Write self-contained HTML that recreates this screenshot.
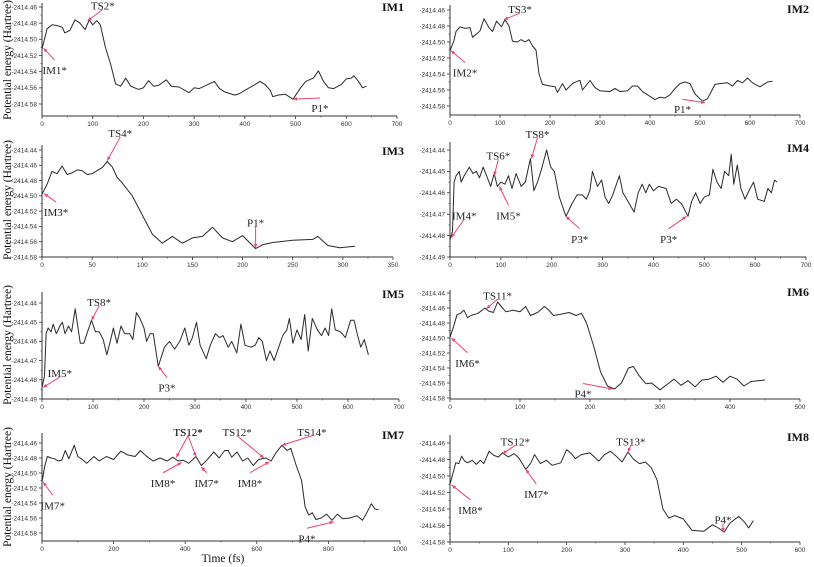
<!DOCTYPE html>
<html><head><meta charset="utf-8">
<style>
html,body{margin:0;padding:0;background:#fff;}
svg{display:block;}
.tick{font-family:"Liberation Sans",sans-serif;font-size:6.5px;fill:#333;}
.ann{font-family:"Liberation Serif",serif;font-size:11px;fill:#222;}
.ttl{font-family:"Liberation Serif",serif;font-size:12px;font-weight:bold;fill:#111;}
.axt{font-family:"Liberation Serif",serif;font-size:11.5px;fill:#111;}
</style></head>
<body>
<svg id="chart" width="814" height="567" viewBox="0 0 814 567"></svg>
<script>
// ---- data (energies in Hartree) ----
const t1=[0,5,10,20,30,40,45,55,65,75,85,93,100,108,115,125,135,145,155,165,175,190,200,210,220,230,245,255,270,290,300,310,320,340,350,360,380,390,400,420,430,440,450,455,465,480,495,510,520,535,545,555,565,575,590,600,610,615,625,632,640];
const e1=[-2414.512,-2414.500,-2414.487,-2414.482,-2414.483,-2414.485,-2414.492,-2414.489,-2414.476,-2414.480,-2414.488,-2414.476,-2414.482,-2414.477,-2414.482,-2414.510,-2414.530,-2414.555,-2414.558,-2414.548,-2414.558,-2414.562,-2414.560,-2414.551,-2414.558,-2414.557,-2414.550,-2414.558,-2414.559,-2414.566,-2414.560,-2414.561,-2414.558,-2414.552,-2414.561,-2414.565,-2414.569,-2414.567,-2414.563,-2414.556,-2414.552,-2414.556,-2414.563,-2414.571,-2414.569,-2414.568,-2414.574,-2414.560,-2414.552,-2414.548,-2414.539,-2414.552,-2414.560,-2414.561,-2414.556,-2414.549,-2414.548,-2414.545,-2414.553,-2414.560,-2414.558];
const t2=[0,8,12,20,30,40,45,55,60,68,78,85,93,103,110,118,125,135,142,150,158,165,172,178,185,200,210,215,225,232,245,255,260,265,280,290,300,320,330,340,355,365,375,385,395,410,420,430,440,450,460,470,480,490,505,515,530,540,555,565,575,585,595,605,620,635,645];
const e2=[-2414.511,-2414.498,-2414.487,-2414.481,-2414.483,-2414.482,-2414.494,-2414.489,-2414.486,-2414.471,-2414.482,-2414.487,-2414.474,-2414.481,-2414.472,-2414.480,-2414.499,-2414.500,-2414.497,-2414.500,-2414.497,-2414.505,-2414.510,-2414.540,-2414.553,-2414.555,-2414.556,-2414.563,-2414.552,-2414.560,-2414.552,-2414.549,-2414.548,-2414.560,-2414.548,-2414.557,-2414.561,-2414.562,-2414.558,-2414.562,-2414.561,-2414.555,-2414.555,-2414.562,-2414.566,-2414.572,-2414.569,-2414.570,-2414.566,-2414.558,-2414.552,-2414.550,-2414.552,-2414.565,-2414.574,-2414.571,-2414.553,-2414.552,-2414.551,-2414.555,-2414.548,-2414.551,-2414.545,-2414.551,-2414.556,-2414.550,-2414.549];
const t3=[0,5,10,15,20,25,30,35,40,45,50,55,60,65,70,75,80,90,100,110,120,130,140,150,160,170,180,190,200,213,220,230,250,270,275,285,297,312];
const e3=[-2414.498,-2414.485,-2414.468,-2414.471,-2414.461,-2414.472,-2414.470,-2414.466,-2414.467,-2414.472,-2414.471,-2414.467,-2414.463,-2414.455,-2414.462,-2414.476,-2414.483,-2414.500,-2414.525,-2414.550,-2414.562,-2414.553,-2414.562,-2414.555,-2414.553,-2414.541,-2414.555,-2414.560,-2414.552,-2414.569,-2414.564,-2414.561,-2414.558,-2414.557,-2414.553,-2414.565,-2414.568,-2414.566];
const t4=[0,5,8,12,18,22,28,38,45,52,58,65,72,80,87,93,100,108,115,122,130,140,148,158,165,172,180,190,198,205,215,228,240,250,260,268,275,280,290,298,305,312,320,333,340,350,362,370,378,385,392,400,410,425,435,445,455,468,475,483,492,500,510,517,525,533,540,548,553,558,565,572,580,590,597,605,618,625,632,638,643];
const e4=[-2414.482,-2414.478,-2414.455,-2414.452,-2414.450,-2414.455,-2414.452,-2414.448,-2414.451,-2414.450,-2414.453,-2414.448,-2414.452,-2414.457,-2414.451,-2414.457,-2414.455,-2414.456,-2414.452,-2414.458,-2414.451,-2414.457,-2414.455,-2414.444,-2414.459,-2414.455,-2414.449,-2414.440,-2414.448,-2414.450,-2414.462,-2414.471,-2414.465,-2414.461,-2414.461,-2414.463,-2414.459,-2414.450,-2414.457,-2414.454,-2414.462,-2414.465,-2414.461,-2414.452,-2414.460,-2414.464,-2414.469,-2414.460,-2414.456,-2414.460,-2414.456,-2414.459,-2414.457,-2414.458,-2414.465,-2414.463,-2414.465,-2414.471,-2414.464,-2414.460,-2414.465,-2414.462,-2414.461,-2414.449,-2414.455,-2414.458,-2414.450,-2414.452,-2414.442,-2414.456,-2414.447,-2414.458,-2414.463,-2414.458,-2414.455,-2414.463,-2414.464,-2414.458,-2414.460,-2414.454,-2414.455];
const t5=[0,5,8,12,18,22,28,35,40,45,52,58,65,70,75,82,88,97,105,112,120,127,133,140,147,155,162,172,178,185,192,200,205,212,218,228,240,250,260,270,280,288,295,303,310,322,330,340,348,355,365,372,382,390,398,410,418,425,432,440,447,455,463,472,480,485,492,500,508,515,522,530,540,548,555,562,568,575,585,595,605,612,618,625,632,640];
const e5=[-2414.484,-2414.478,-2414.456,-2414.453,-2414.455,-2414.451,-2414.456,-2414.452,-2414.450,-2414.456,-2414.452,-2414.455,-2414.443,-2414.452,-2414.461,-2414.461,-2414.456,-2414.449,-2414.455,-2414.455,-2414.459,-2414.467,-2414.461,-2414.453,-2414.461,-2414.452,-2414.456,-2414.456,-2414.459,-2414.445,-2414.448,-2414.453,-2414.460,-2414.456,-2414.456,-2414.473,-2414.463,-2414.460,-2414.464,-2414.460,-2414.453,-2414.462,-2414.458,-2414.450,-2414.462,-2414.469,-2414.462,-2414.456,-2414.458,-2414.457,-2414.463,-2414.460,-2414.466,-2414.451,-2414.462,-2414.463,-2414.462,-2414.458,-2414.460,-2414.470,-2414.465,-2414.470,-2414.464,-2414.457,-2414.454,-2414.448,-2414.461,-2414.454,-2414.459,-2414.446,-2414.465,-2414.448,-2414.454,-2414.457,-2414.453,-2414.457,-2414.443,-2414.454,-2414.455,-2414.458,-2414.449,-2414.449,-2414.456,-2414.463,-2414.459,-2414.467];
const t6=[0,5,10,15,20,25,30,40,50,55,62,68,75,80,90,100,108,115,125,135,140,148,160,170,180,188,195,205,215,225,235,245,255,262,270,280,288,300,310,320,330,340,350,360,370,380,390,400,410,420,430,440,450];
const e6=[-2414.499,-2414.485,-2414.469,-2414.467,-2414.463,-2414.473,-2414.470,-2414.467,-2414.460,-2414.464,-2414.466,-2414.452,-2414.460,-2414.465,-2414.463,-2414.465,-2414.458,-2414.470,-2414.466,-2414.458,-2414.462,-2414.470,-2414.468,-2414.466,-2414.470,-2414.467,-2414.480,-2414.510,-2414.545,-2414.564,-2414.568,-2414.560,-2414.540,-2414.538,-2414.550,-2414.561,-2414.560,-2414.569,-2414.562,-2414.555,-2414.563,-2414.557,-2414.565,-2414.556,-2414.555,-2414.551,-2414.559,-2414.551,-2414.555,-2414.564,-2414.558,-2414.557,-2414.556];
const t7=[0,8,15,25,35,45,55,65,75,90,100,110,125,145,160,180,200,220,240,260,275,290,310,330,350,365,380,395,410,430,445,460,480,495,510,520,530,545,560,575,590,605,625,640,655,670,685,695,710,725,735,745,755,765,780,795,810,825,840,860,880,895,905,920,930,940];
const e7=[-2414.512,-2414.490,-2414.478,-2414.480,-2414.481,-2414.484,-2414.483,-2414.470,-2414.481,-2414.463,-2414.478,-2414.481,-2414.487,-2414.478,-2414.484,-2414.478,-2414.482,-2414.471,-2414.476,-2414.478,-2414.470,-2414.477,-2414.484,-2414.480,-2414.484,-2414.479,-2414.484,-2414.483,-2414.487,-2414.478,-2414.490,-2414.483,-2414.472,-2414.480,-2414.470,-2414.470,-2414.479,-2414.472,-2414.484,-2414.480,-2414.490,-2414.482,-2414.480,-2414.484,-2414.472,-2414.463,-2414.470,-2414.467,-2414.490,-2414.510,-2414.545,-2414.556,-2414.553,-2414.562,-2414.560,-2414.555,-2414.563,-2414.555,-2414.561,-2414.560,-2414.557,-2414.563,-2414.555,-2414.541,-2414.548,-2414.549];
const t8=[0,5,10,15,20,25,30,38,45,52,58,67,75,83,90,100,110,118,130,138,145,155,165,175,190,200,208,215,225,240,255,265,275,285,295,305,315,325,335,345,355,365,375,385,400,415,435,450,460,470,480,495,505,512,520];
const e8=[-2414.510,-2414.497,-2414.484,-2414.485,-2414.476,-2414.482,-2414.484,-2414.481,-2414.486,-2414.481,-2414.485,-2414.470,-2414.475,-2414.477,-2414.472,-2414.477,-2414.473,-2414.478,-2414.492,-2414.485,-2414.474,-2414.485,-2414.481,-2414.487,-2414.484,-2414.468,-2414.473,-2414.479,-2414.474,-2414.472,-2414.482,-2414.474,-2414.470,-2414.476,-2414.483,-2414.471,-2414.480,-2414.485,-2414.483,-2414.490,-2414.505,-2414.540,-2414.551,-2414.548,-2414.552,-2414.566,-2414.567,-2414.559,-2414.563,-2414.568,-2414.557,-2414.549,-2414.556,-2414.563,-2414.554];
const yTicks1=[-2414.46,-2414.48,-2414.50,-2414.52,-2414.54,-2414.56,-2414.58];
const yTicksWide=[-2414.44,-2414.46,-2414.48,-2414.50,-2414.52,-2414.54,-2414.56,-2414.58];
const yTicksFine=[-2414.44,-2414.45,-2414.46,-2414.47,-2414.48,-2414.49];
const panelNames=["IM1","IM2","IM3","IM4","IM5","IM6","IM7","IM8"];
// annotations: [text, tipT, tipE, labelT, labelE]
const ann1=[["IM1*",3,-2414.511,25,-2414.538],["TS2*",90,-2414.477,120,-2414.458],["P1*",495,-2414.574,548,-2414.585]];
const ann2=[["IM2*",2,-2414.511,30,-2414.538],["TS3*",108,-2414.472,140,-2414.459],["P1*",510,-2414.576,465,-2414.584]];
const ann3=[["IM3*",2,-2414.497,14,-2414.521],["TS4*",65,-2414.454,78,-2414.418],["P1*",213,-2414.568,213,-2414.535]];
const ann4=[["IM4*",2,-2414.481,28,-2414.4705],["TS6*",87,-2414.452,95,-2414.4425],["IM5*",97,-2414.457,115,-2414.4705],["TS8*",160,-2414.444,172,-2414.4325],["P3*",228,-2414.471,255,-2414.4815],["P3*",465,-2414.471,430,-2414.4815]];
const ann5=[["IM5*",2,-2414.484,35,-2414.4765],["TS8*",97,-2414.449,112,-2414.4395],["P3*",228,-2414.473,245,-2414.484]];
const ann6=[["IM6*",2,-2414.500,25,-2414.533],["TS11*",52,-2414.461,68,-2414.443],["P4*",232,-2414.568,190,-2414.574]];
const ann7=[["IM7*",3,-2414.512,30,-2414.543],["TS12*",375,-2414.479,408,-2414.445],["TS12*",430,-2414.478,408,-2414.445],["IM8*",390,-2414.486,338,-2414.513],["IM7*",445,-2414.492,460,-2414.513],["TS12*",620,-2414.480,545,-2414.445],["IM8*",635,-2414.485,581,-2414.513],["TS14*",670,-2414.463,754,-2414.445],["P4*",815,-2414.565,740,-2414.587]];
const ann8=[["IM8*",3,-2414.511,35,-2414.541],["TS12*",90,-2414.473,112,-2414.458],["IM7*",130,-2414.492,148,-2414.522],["TS13*",305,-2414.471,310,-2414.458],["P4*",468,-2414.568,468,-2414.553]];

const svg=document.getElementById('chart');
const NS='http://www.w3.org/2000/svg';
function mk(tag,attrs,parent){const e=document.createElementNS(NS,tag);for(const k in attrs)e.setAttribute(k,attrs[k]);(parent||svg).appendChild(e);return e;}

const panels=[
 {t:t1,e:e1,a:ann1,x0:42,x1:397,xmax:700,xstep:100,ticks:yTicks1,vA:-2414.46,pA:7,vB:-2414.58,pB:104,axisY:116,top:3},
 {t:t2,e:e2,a:ann2,x0:450,x1:800,xmax:700,xstep:100,ticks:yTicks1,vA:-2414.46,pA:10,vB:-2414.58,pB:106,axisY:115,top:5},
 {t:t3,e:e3,a:ann3,x0:42,x1:393,xmax:350,xstep:50,ticks:yTicksWide,vA:-2414.44,pA:150,vB:-2414.58,pB:257,axisY:257,top:145},
 {t:t4,e:e4,a:ann4,x0:450,x1:806,xmax:700,xstep:100,ticks:yTicksFine,vA:-2414.44,pA:150,vB:-2414.49,pB:257,axisY:257,top:142},
 {t:t5,e:e5,a:ann5,x0:42,x1:399,xmax:700,xstep:100,ticks:yTicksFine,vA:-2414.44,pA:303,vB:-2414.49,pB:399,axisY:399,top:292},
 {t:t6,e:e6,a:ann6,x0:450,x1:800,xmax:500,xstep:100,ticks:yTicksWide,vA:-2414.44,pA:293,vB:-2414.58,pB:398,axisY:399,top:290},
 {t:t7,e:e7,a:ann7,x0:42,x1:400,xmax:1000,xstep:200,ticks:yTicks1,vA:-2414.46,pA:443,vB:-2414.58,pB:533,axisY:541,top:433},
 {t:t8,e:e8,a:ann8,x0:450,x1:800,xmax:600,xstep:100,ticks:yTicks1,vA:-2414.46,pA:443,vB:-2414.58,pB:542,axisY:542,top:435}
];

panels.forEach((p,i)=>{
  const g=mk('g',{});
  
  
  const xs=v=>p.x0+(v/p.xmax)*(p.x1-p.x0);
  const ys=v=>p.pA+(v-p.vA)/(p.vB-p.vA)*(p.pB-p.pA);
  // axes
  const yAx=mk('line',{x1:p.x0,y1:p.top,x2:p.x0,y2:p.axisY,stroke:'#333','stroke-width':1},g);
  
  
  const xAx=mk('line',{x1:p.x0,y1:p.axisY,x2:p.x1,y2:p.axisY,stroke:'#333','stroke-width':1},g);
  
  
  // y ticks
  const step=p.ticks[1]-p.ticks[0];
  p.ticks.forEach((v,k)=>{
    const y=ys(v);
    mk('line',{x1:p.x0-3,y1:y,x2:p.x0,y2:y,stroke:'#333','stroke-width':0.8},g);
    if(k<p.ticks.length-1){const ym=ys(v+step/2);mk('line',{x1:p.x0-1.5,y1:ym,x2:p.x0,y2:ym,stroke:'#333','stroke-width':0.6},g);}
    const tl=mk('text',{x:p.x0-5,y:y+2.3,'text-anchor':'end',class:'tick'},g);
    tl.textContent=v.toFixed(2);
    
    
  });
  // x ticks
  for(let v=0;v<=p.xmax+1e-6;v+=p.xstep){
    const x=xs(v);
    mk('line',{x1:x,y1:p.axisY,x2:x,y2:p.axisY+3,stroke:'#333','stroke-width':0.8},g);
    if(v+p.xstep/2<p.xmax){const xm=xs(v+p.xstep/2);mk('line',{x1:xm,y1:p.axisY,x2:xm,y2:p.axisY+1.5,stroke:'#333','stroke-width':0.6},g);}
    const tl=mk('text',{x:x,y:p.axisY+10,'text-anchor':'middle',class:'tick'},g);
    tl.textContent=String(v);
    
    
  }
  // series
  let d='';
  p.t.forEach((tv,k)=>{d+=(k?'L':'M')+xs(tv).toFixed(1)+','+ys(p.e[k]).toFixed(1);});
  const line=mk('path',{d:d,fill:'none',stroke:'#2a2a2a','stroke-width':1,'stroke-linejoin':'round'},g);
  
  
  // title
  const tt=mk('text',{x:(i%2?809:404),y:p.top+(i<2?8:6)+ (i===2||i===3?4:0),'text-anchor':'end',class:'ttl'},g);
  tt.textContent=panelNames[i];
  
  
  // annotations
  p.a.forEach(a=>{
    const tx=xs(a[1]),ty=ys(a[2]),lx=xs(a[3]),ly=ys(a[4]);
    const dy=ty>ly?4:-10;
    const sx=lx, sy=ly+dy;
    const ang=Math.atan2(ty-sy,tx-sx);
    const ar=mk('g',{},g);
    
    
    mk('line',{x1:sx,y1:sy,x2:tx,y2:ty,stroke:'#f0446a','stroke-width':1},ar);
    const hl=4,hw=1.8;
    const bx=tx-hl*Math.cos(ang),by=ty-hl*Math.sin(ang);
    mk('polygon',{points:`${tx},${ty} ${bx-hw*Math.sin(ang)},${by+hw*Math.cos(ang)} ${bx+hw*Math.sin(ang)},${by-hw*Math.cos(ang)}`,fill:'#f0446a'},ar);
    const lt=mk('text',{x:lx,y:ly+4,'text-anchor':'middle',class:'ann'},g);
    lt.textContent=a[0];
    
    
  });
});
// y-axis titles (left column)
[[60],[200],[345],[487]].forEach(c=>{
  const t=mk('text',{x:0,y:0,transform:`translate(11,${c[0]}) rotate(-90)`,'text-anchor':'middle',class:'axt'});
  t.textContent='Potential energy (Hartree)';
  
  
});
const xt=mk('text',{x:223,y:562,'text-anchor':'middle',class:'axt'});
xt.textContent='Time (fs)';


</script>
</body></html>
